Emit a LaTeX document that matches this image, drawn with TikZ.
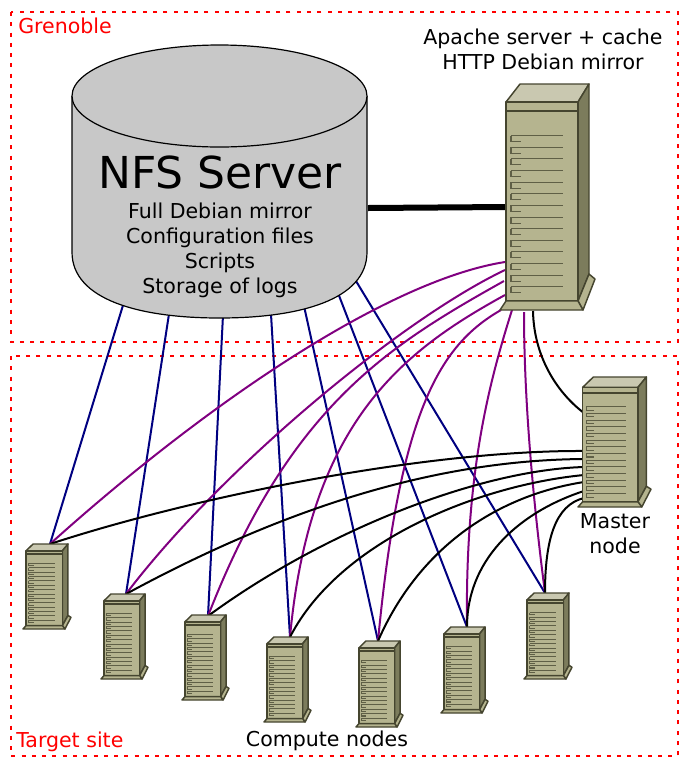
\documentclass[tikz,border=0pt]{standalone}
\usepackage{fontspec}
\setmainfont{DejaVu Sans}
\definecolor{srvfront}{HTML}{B5B48F}
\definecolor{srvtop}{HTML}{C9C8B0}
\definecolor{srvside}{HTML}{7C7C5C}
\definecolor{srvline}{HTML}{45452F}
\definecolor{srvsoft}{HTML}{5F5F46}
\definecolor{cylfill}{HTML}{C8C8C8}
\definecolor{navyline}{HTML}{000080}
\definecolor{purpleline}{HTML}{800080}
\newcommand{\srvbox}[5]{%
\begin{scope}[shift={(#2,#3)},xscale=#4/95,yscale=#5/226]
\coordinate (#1) at (47,113);
\filldraw[srvpart,fill=srvtop] (20,0) -- (89,0) -- (78,18) -- (6,18) -- cycle;
\filldraw[srvpart,fill=srvside] (89,0) -- (89,190) -- (78,217) -- (78,18) -- cycle;
\filldraw[srvpart,fill=srvfront] (6,18) rectangle (78,217);
\filldraw[srvpart,fill=srvfront] (89,190) -- (95,195) -- (83,226) -- (78,217) -- cycle;
\filldraw[srvpart,fill=srvfront] (6,217) -- (78,217) -- (83,226) -- (0,226) -- cycle;
\draw[srvpart,line width=1.5pt] (6,27) -- (78,27);
\foreach \i [evaluate=\i as \yy using 51.7+11.62*\i] in {0,...,13}{
  \draw[draw=srvsoft,line width=.8pt] (11,\yy) -- (63,\yy) (11,\yy) -- (11,\yy+6) -- (21,\yy+6);
}
\end{scope}}
\tikzset{
  srvpart/.style={draw=srvline,line width=1.1pt,line join=round},
  frameline/.style={draw=red,line width=1.5pt,dash pattern=on 3pt off 4.7pt},
  nfswire/.style={draw=navyline,line width=1.5pt},
  httpwire/.style={draw=purpleline,line width=1.5pt},
  lanwire/.style={draw=black,line width=1.5pt},
  lbl/.style={align=center,font=\fontsize{15.4}{18.8}\selectfont,inner sep=0pt},
  redlbl/.style={text=red,anchor=base west,font=\fontsize{15.4}{18}\selectfont,inner sep=0pt},
}
\begin{document}
\begin{tikzpicture}[x=0.75pt,y=-0.75pt]
\useasboundingbox (0,0) rectangle (685,765);
% frames
\draw[frameline] (11,12) rectangle (678,342);
\draw[frameline] (11,356) rectangle (678,756);
% end points
\foreach \n/\x/\y in {t1/50/544,t2/126/594,t3/208/616,t4/290/637,t5/378/641,t6/467/627,t7/545/593,
 b1/124/302,b2/169/314,b3/223/315,b4/271/314,b5/304/306,b6/338/293,b7/356/281,
 p1/505/262,p2/505/270,p3/504/281,p4/505/295,p5/501/310,p6/512/310,p7/524/312,
 k1/584/451,k2/584/459,k3/584/467,k4/584/475,k5/584/482,k6/584/491,k7/584/498,
 a0/533/311,m0/584/413,c0/368/208,h0/506/207}
 {\coordinate (\n) at (\x,\y);}
% NFS links
\foreach \i in {1,...,7}{\draw[nfswire] (b\i) -- (t\i);}
% HTTP links
\draw[httpwire] (p1) .. controls (390,280) and (210,400) .. (t1);
\draw[httpwire] (p2) .. controls (400,320) and (220,470) .. (t2);
\draw[httpwire] (p3) .. controls (390,345) and (290,405) .. (t3);
\draw[httpwire] (p4) .. controls (405,350) and (310,420) .. (t4);
\draw[httpwire] (p5) .. controls (440,345) and (400,410) .. (t5);
\draw[httpwire] (p6) .. controls (490,380) and (465,470) .. (t6);
\draw[httpwire] (p7) .. controls (524,400) and (533,500) .. (t7);
% LAN links
\draw[lanwire] (a0) .. controls (534,360) and (560,395) .. (m0);
\draw[lanwire] (k1) .. controls (430,450) and (200,495) .. (t1);
\draw[lanwire] (k2) .. controls (440,460) and (290,505) .. (t2);
\draw[lanwire] (k3) .. controls (480,470) and (325,530) .. (t3);
\draw[lanwire] (k4) .. controls (480,485) and (340,540) .. (t4);
\draw[lanwire] (k5) .. controls (500,495) and (420,545) .. (t5);
\draw[lanwire] (k6) .. controls (525,510) and (467,555) .. (t6);
\draw[lanwire] (k7) .. controls (555,505) and (545,540) .. (t7);
\draw[line width=4.5pt] (c0) -- (h0);
% cylinder
\filldraw[draw=black,fill=cylfill,line width=.9pt] (72,96) -- (72,252) .. controls (72,300) and (140,318) .. (219.5,318) .. controls (299,318) and (367,300) .. (367,252) -- (367,96);
\filldraw[draw=black,fill=cylfill,line width=.9pt] (219.5,96) ellipse[x radius=147.5,y radius=51];
\node[inner sep=0pt,font=\fontsize{33}{40}\selectfont] (nfs) at (220,172) {NFS Server};
\node[lbl] (nfstext) at (220,250) {Full Debian mirror\\Configuration files\\Scripts\\Storage of logs};
% servers
\srvbox{apache}{500}{84}{95}{226}
\srvbox{master}{578}{377}{73}{130}
\srvbox{s1}{23}{544}{48}{85}
\srvbox{s2}{101}{594}{47}{85}
\srvbox{s3}{182}{615}{47}{85}
\srvbox{s4}{264}{637}{47}{85}
\srvbox{s5}{356}{641}{47}{86}
\srvbox{s6}{441}{627}{47}{86}
\srvbox{s7}{524}{593}{48}{86}
% labels
\node[lbl] (apachelbl) at (543,49.5) {Apache server + cache\\HTTP Debian mirror};
\node[lbl] (masterlbl) at (615,533.5) {Master\\node};
\node[lbl] (computelbl) at (327,741) {Compute nodes};
\node[redlbl] (grenoble) at (18,33) {Grenoble};
\node[redlbl] (target) at (16,747) {Target site};
\end{tikzpicture}
\end{document}
